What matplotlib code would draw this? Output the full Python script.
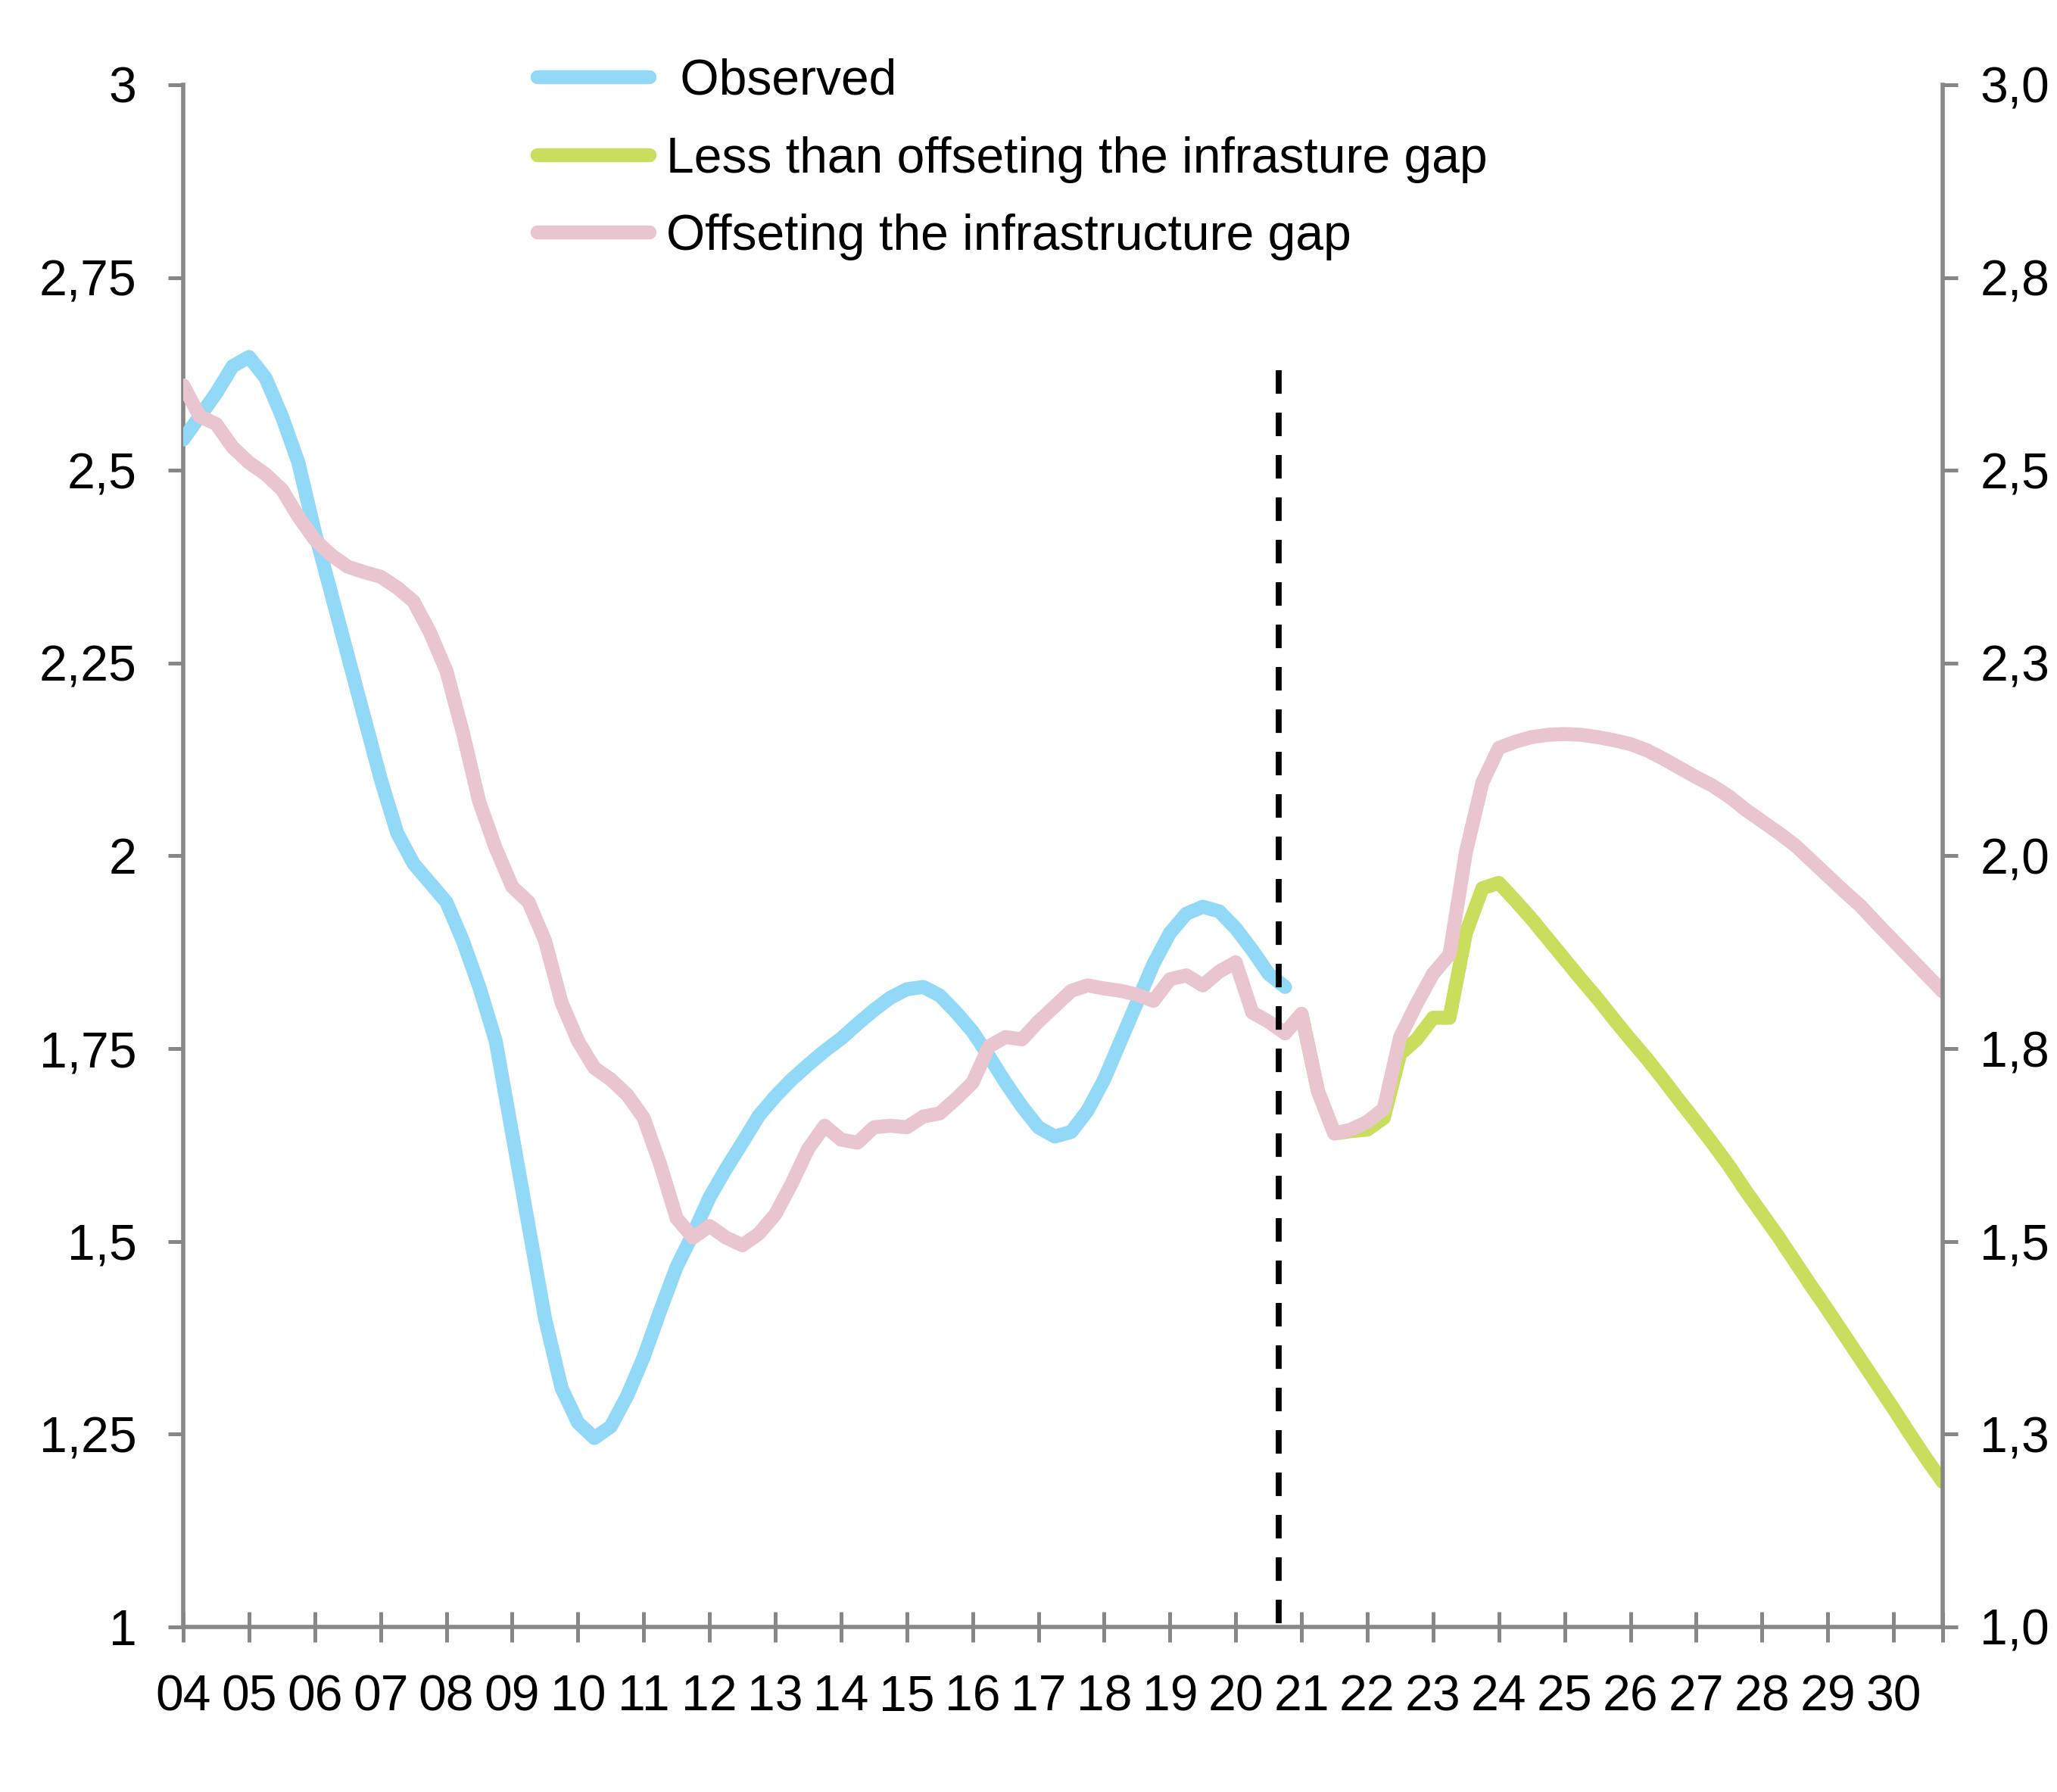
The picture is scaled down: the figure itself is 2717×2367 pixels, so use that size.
import numpy as np
import matplotlib
matplotlib.use('Agg')
import matplotlib.pyplot as plt

plt.rcParams['font.family'] = ['Liberation Sans', 'DejaVu Sans']

# quarterly series, first point 2004Q1
start_year = 2004.0
step = 0.25

observed = [
    2.54, 2.57, 2.60, 2.635, 2.647, 2.62, 2.57, 2.51,
    2.42, 2.34, 2.26, 2.18, 2.10, 2.03, 1.99, 1.965,
    1.94, 1.89, 1.83, 1.76, 1.64, 1.52, 1.40, 1.31,
    1.265, 1.245, 1.26, 1.30, 1.35, 1.41, 1.467, 1.51,
    1.557, 1.594, 1.628, 1.663, 1.688, 1.71, 1.729, 1.747,
    1.763, 1.782, 1.80, 1.816, 1.827, 1.83, 1.819, 1.797,
    1.772, 1.74, 1.706, 1.675, 1.648, 1.636, 1.642, 1.67,
    1.71, 1.76, 1.81, 1.86, 1.90, 1.925, 1.934, 1.928,
    1.906, 1.878, 1.847, 1.83,
]

offset_gap = [
    2.61, 2.57, 2.56, 2.53, 2.51, 2.495, 2.475, 2.44,
    2.41, 2.39, 2.375, 2.368, 2.362, 2.348, 2.33, 2.29,
    2.24, 2.16, 2.07, 2.01, 1.96, 1.94, 1.89, 1.81,
    1.76, 1.725, 1.71, 1.69, 1.66, 1.60, 1.53, 1.505,
    1.52, 1.505, 1.495, 1.51, 1.535, 1.575, 1.62, 1.65,
    1.632, 1.628, 1.648, 1.65, 1.648, 1.662, 1.666, 1.685,
    1.706, 1.753, 1.765, 1.762, 1.785, 1.805, 1.825, 1.832,
    1.828, 1.825, 1.82, 1.812, 1.84, 1.845, 1.832, 1.85,
    1.862, 1.797, 1.785, 1.77, 1.795, 1.695, 1.64, 1.645,
    1.655, 1.672, 1.765, 1.808, 1.847, 1.872, 2.005, 2.095,
    2.14, 2.148, 2.154, 2.157, 2.158, 2.157, 2.154, 2.150,
    2.145, 2.137, 2.126, 2.114, 2.102, 2.091, 2.077, 2.060,
    2.045, 2.030, 2.014, 1.994, 1.974, 1.954, 1.935, 1.912,
    1.890, 1.868, 1.846, 1.824,
]

# starts at 2020Q4 (index 67)
less_start = 67
less_than_gap = [
    1.77, 1.795, 1.695, 1.64, 1.643, 1.645, 1.66, 1.743,
    1.762, 1.79, 1.79, 1.90, 1.958, 1.965,
    1.942, 1.918, 1.892, 1.866, 1.840, 1.815, 1.788, 1.762,
    1.737, 1.710, 1.682, 1.655, 1.627, 1.598, 1.566, 1.536,
    1.506, 1.474, 1.442, 1.411, 1.379, 1.347, 1.315, 1.283,
    1.250, 1.218, 1.188,
]

labels = [' Observed', 'Less than offseting the infrasture gap', 'Offseting the infrastructure gap']
colors = ['#92D9F7', '#CBDD5D', '#E9C5D0']

year_ticks = list(range(2004, 2031))
year_labels = ['04', '05', '06', '07', '08', '09', '10', '11', '12', '13', '14', '15', '16', '17',
               '18', '19', '20', '21', '22', '23', '24', '25', '26', '27', '28', '29', '30']
y_ticks = [1, 1.25, 1.5, 1.75, 2, 2.25, 2.5, 2.75, 3]
left_labels = ['1', '1,25', '1,5', '1,75', '2', '2,25', '2,5', '2,75', '3']
right_labels = ['1,0', '1,3', '1,5', '1,8', '2,0', '2,3', '2,5', '2,8', '3,0']

forecast_line_x = 2020.65
forecast_line_top = 2.63

t_obs = start_year + step * np.arange(len(observed))
t_off = start_year + step * np.arange(len(offset_gap))
t_less = start_year + step * (less_start + np.arange(len(less_than_gap)))
x_end = t_off[-1]

grey = '#878787'
fs = 47.5
lw = 13.3

fig = plt.figure(figsize=(27.17, 23.67), dpi=100, facecolor='white')
ax = fig.add_axes([0.0891, 0.0921, 0.8554, 0.8606])

line_kw = dict(linewidth=lw, solid_capstyle='round', solid_joinstyle='round')
ax.plot(t_obs, observed, color=colors[0], label=labels[0], zorder=3, **line_kw)
ax.plot(t_less, less_than_gap, color=colors[1], label=labels[1], zorder=4, **line_kw)
ax.plot(t_off, offset_gap, color=colors[2], label=labels[2], zorder=5, **line_kw)

# start of the projection period, dashes run from the top down
ax.plot([forecast_line_x, forecast_line_x], [forecast_line_top, 1.0], color='black',
        linewidth=5.6, linestyle=(0, (4.0, 3.2)), dash_capstyle='butt', zorder=6)

ax.set_xlim(start_year, x_end)
ax.set_ylim(1, 3)

ax.set_xticks(year_ticks + [x_end])
ax.set_xticklabels(year_labels + [''])
ax.set_yticks(y_ticks)
ax.set_yticklabels(left_labels)

ax.tick_params(axis='x', direction='inout', length=28.8, width=3.6, color=grey,
               labelsize=fs, pad=30.5)
ax.tick_params(axis='y', direction='out', length=14.4, width=3.6, color=grey,
               labelsize=fs, pad=30)

for side in ['top', 'right']:
    ax.spines[side].set_visible(False)
for side in ['left', 'bottom']:
    ax.spines[side].set_color(grey)
    ax.spines[side].set_linewidth(4)

ax2 = ax.twinx()
ax2.set_ylim(1, 3)
ax2.set_yticks(y_ticks)
ax2.set_yticklabels(right_labels)
ax2.tick_params(axis='y', direction='out', length=14.4, width=3.6, color=grey,
                labelsize=fs, pad=21)
for side in ['top', 'left', 'bottom']:
    ax2.spines[side].set_visible(False)
ax2.spines['right'].set_color(grey)
ax2.spines['right'].set_linewidth(4)

leg = ax.legend(loc='upper left', bbox_to_anchor=(0.2613, 0.9676), bbox_transform=fig.transFigure,
                frameon=False, fontsize=fs, handlelength=2.24, handletextpad=0.33,
                labelspacing=0.62, borderpad=0, borderaxespad=0)

fig.savefig('out.png', dpi=100, facecolor='white')
